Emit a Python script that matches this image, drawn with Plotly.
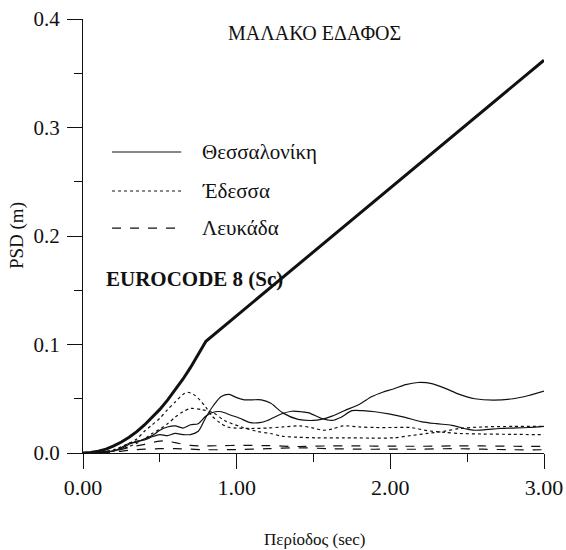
import plotly.graph_objects as go

# EC8 design displacement spectrum, soil class C
ec8_T = [0.0, 0.05, 0.1, 0.15, 0.2, 0.25, 0.3, 0.35, 0.4, 0.45, 0.5, 0.55,
         0.6, 0.65, 0.7, 0.75, 0.8, 3.0]
ec8_sd = [0.0, 0.0004, 0.0016, 0.0036, 0.0065, 0.0101, 0.0145, 0.0197, 0.0258,
          0.0326, 0.0402, 0.0487, 0.058, 0.068, 0.0789, 0.0905, 0.103, 0.362]

# Thessaloniki, two horizontal components
thes1_T = [0.0, 0.1, 0.2, 0.25, 0.3, 0.35, 0.4, 0.45, 0.5, 0.55, 0.6, 0.65, 0.7,
           0.75, 0.8, 0.85, 0.9, 0.95, 1.0, 1.05, 1.1, 1.16, 1.22, 1.3, 1.4, 1.5,
           1.55, 1.62, 1.7, 1.8, 1.88, 1.95, 2.02, 2.1, 2.18, 2.27, 2.35, 2.45,
           2.55, 2.67, 2.8, 2.9, 3.0]
thes1_sd = [0.0, 0.0005, 0.002, 0.004, 0.008, 0.011, 0.012, 0.015, 0.017, 0.016,
            0.018, 0.017, 0.017, 0.02, 0.033, 0.044, 0.052, 0.054, 0.051, 0.049,
            0.049, 0.049, 0.046, 0.037, 0.031, 0.030, 0.031, 0.034, 0.039, 0.045,
            0.052, 0.056, 0.059, 0.063, 0.065, 0.064, 0.060, 0.054, 0.050, 0.0487,
            0.050, 0.053, 0.057]
thes2_T = [0.0, 0.1, 0.2, 0.25, 0.3, 0.35, 0.4, 0.45, 0.5, 0.55, 0.6, 0.65, 0.7,
           0.75, 0.8, 0.86, 0.9, 0.96, 1.02, 1.09, 1.15, 1.2, 1.29, 1.36, 1.42,
           1.47, 1.55, 1.62, 1.68, 1.75, 1.82, 1.9, 1.99, 2.09, 2.2, 2.3, 2.4, 2.5,
           2.54, 2.62, 2.71, 2.8, 2.9, 3.0]
thes2_sd = [0.0, 0.0004, 0.002, 0.005, 0.009, 0.010, 0.013, 0.016, 0.021, 0.024,
            0.025, 0.023, 0.026, 0.027, 0.034, 0.038, 0.038, 0.035, 0.032, 0.028,
            0.028, 0.030, 0.036, 0.0385, 0.038, 0.037, 0.032, 0.030, 0.033, 0.039,
            0.039, 0.038, 0.036, 0.033, 0.029, 0.027, 0.0255, 0.022, 0.021, 0.0215,
            0.0226, 0.023, 0.0235, 0.0246]

# Edessa, two horizontal components
edes1_T = [0.0, 0.1, 0.2, 0.3, 0.35, 0.4, 0.45, 0.5, 0.55, 0.6, 0.65, 0.68, 0.72,
           0.76, 0.8, 0.84, 0.89, 0.94, 1.0, 1.09, 1.2, 1.3, 1.41, 1.5, 1.56, 1.62,
           1.69, 1.8, 1.9, 2.02, 2.13, 2.24, 2.35, 2.45, 2.6, 2.8, 3.0]
edes1_sd = [0.0, 0.0006, 0.003, 0.009, 0.013, 0.02, 0.026, 0.032, 0.04, 0.047,
            0.054, 0.056, 0.054, 0.049, 0.042, 0.034, 0.028, 0.024, 0.023, 0.0226,
            0.023, 0.024, 0.025, 0.023, 0.021, 0.022, 0.025, 0.024, 0.0235, 0.0235,
            0.0235, 0.0206, 0.019, 0.018, 0.0175, 0.0172, 0.0168]
edes2_T = [0.0, 0.1, 0.2, 0.3, 0.35, 0.4, 0.45, 0.5, 0.55, 0.6, 0.65, 0.7, 0.77,
           0.85, 0.92, 1.03, 1.14, 1.22, 1.3, 1.4, 1.52, 1.7, 1.87, 2.02, 2.13,
           2.24, 2.35, 2.45, 2.6, 2.8, 3.0]
edes2_sd = [0.0, 0.0004, 0.002, 0.006, 0.009, 0.013, 0.018, 0.022, 0.027, 0.033,
            0.038, 0.041, 0.040, 0.037, 0.030, 0.024, 0.0197, 0.018, 0.0154, 0.0145,
            0.014, 0.014, 0.0138, 0.014, 0.016, 0.018, 0.020, 0.0226, 0.024, 0.0245,
            0.0246]

# Lefkada, two horizontal components
lefk1_T = [0.0, 0.1, 0.2, 0.3, 0.4, 0.5, 0.55, 0.6, 0.7, 0.8, 0.9, 1.0, 1.2, 1.4,
           1.6, 1.8, 2.0, 2.2, 2.4, 2.6, 2.8, 3.0]
lefk1_sd = [0.0, 0.0005, 0.002, 0.005, 0.008, 0.011, 0.011, 0.0095, 0.007, 0.0065,
            0.0068, 0.007, 0.0068, 0.006, 0.0065, 0.0065, 0.0063, 0.0062, 0.0065,
            0.0065, 0.0062, 0.0062]
lefk2_T = [0.0, 0.1, 0.2, 0.3, 0.4, 0.5, 0.6, 0.7, 0.8, 1.0, 1.2, 1.4, 1.6, 1.8,
           2.0, 2.2, 2.4, 2.6, 2.8, 3.0]
lefk2_sd = [0.0, 0.0003, 0.001, 0.0025, 0.0035, 0.004, 0.004, 0.0035, 0.003, 0.0032,
            0.004, 0.0048, 0.004, 0.0035, 0.0035, 0.0035, 0.004, 0.0035, 0.003, 0.003]

legend_names = ["Θεσσαλονίκη", "Έδεσσα", "Λευκάδα"]
legend_dash = ["solid", "dot", "dash"]

FONT = "Liberation Serif, DejaVu Serif, serif"
INK = "#111111"

fig = go.Figure()

records = [
    (thes1_T, thes1_sd, "solid"), (thes2_T, thes2_sd, "solid"),
    (edes1_T, edes1_sd, "dot"), (edes2_T, edes2_sd, "dot"),
    (lefk1_T, lefk1_sd, "dash"), (lefk2_T, lefk2_sd, "dash"),
]
for T, sd, dash in records:
    fig.add_trace(go.Scatter(
        x=T, y=sd, mode="lines",
        line=dict(color=INK, width=1.2, dash=dash, shape="spline", smoothing=0.8),
        showlegend=False, hoverinfo="skip"))

fig.add_trace(go.Scatter(
    x=ec8_T, y=ec8_sd, mode="lines",
    line=dict(color=INK, width=3), showlegend=False, hoverinfo="skip"))

# hand-drawn key
key_y = [0.6935, 0.6037, 0.518]
for name, dash, ky in zip(legend_names, legend_dash, key_y):
    fig.add_shape(type="line", xref="paper", yref="paper",
                  x0=0.063, x1=0.213, y0=ky, y1=ky,
                  line=dict(color=INK, width=1.2, dash=dash))
    fig.add_annotation(xref="paper", yref="paper", x=0.253, y=ky,
                       text=name, showarrow=False, xanchor="left", yanchor="middle",
                       font=dict(family=FONT, size=21, color=INK))

fig.add_annotation(xref="paper", yref="paper", x=0.503, y=0.968,
                   text="ΜΑΛΑΚΟ ΕΔΑΦΟΣ", showarrow=False,
                   xanchor="center", yanchor="middle",
                   font=dict(family=FONT, size=20, color=INK))
fig.add_annotation(xref="paper", yref="paper", x=0.045, y=0.40,
                   text="<b>EUROCODE 8 (Sc)</b>", showarrow=False,
                   xanchor="left", yanchor="middle",
                   font=dict(family=FONT, size=21, color=INK))

# axis titles
fig.add_annotation(xref="paper", yref="paper", x=0.503, y=-0.199,
                   text="Περίοδος (sec)", showarrow=False,
                   xanchor="center", yanchor="middle",
                   font=dict(family=FONT, size=17, color=INK))
fig.add_annotation(xref="paper", yref="paper", x=-0.143, y=0.5,
                   text="PSD (m)", showarrow=False, textangle=-90,
                   xanchor="center", yanchor="middle",
                   font=dict(family=FONT, size=19, color=INK))

fig.update_layout(
    width=566, height=550,
    margin=dict(l=83, r=22, t=19, b=97),
    paper_bgcolor="white", plot_bgcolor="white",
    font=dict(family=FONT, color=INK),
    xaxis=dict(
        range=[0, 3], tickvals=[0, 1, 2, 3], tickformat=".2f",
        ticks="outside", ticklen=15, tickwidth=1, tickcolor=INK,
        minor=dict(tickvals=[0.5, 1.5, 2.5], ticks="outside", ticklen=8,
                   tickwidth=1, tickcolor=INK),
        showline=True, linecolor=INK, linewidth=1, showgrid=False, zeroline=False,
        tickfont=dict(family=FONT, size=22, color=INK), automargin=False,
    ),
    yaxis=dict(
        range=[0, 0.4], tickvals=[0, 0.1, 0.2, 0.3, 0.4], tickformat=".1f",
        ticks="outside", ticklen=15, tickwidth=1, tickcolor=INK,
        minor=dict(tickvals=[0.05, 0.15, 0.25, 0.35], ticks="outside", ticklen=8,
                   tickwidth=1, tickcolor=INK),
        showline=True, linecolor=INK, linewidth=1, showgrid=False, zeroline=False,
        tickfont=dict(family=FONT, size=21, color=INK), automargin=False,
        ticklabelstandoff=3,
    ),
)

fig.write_html("out.html")
